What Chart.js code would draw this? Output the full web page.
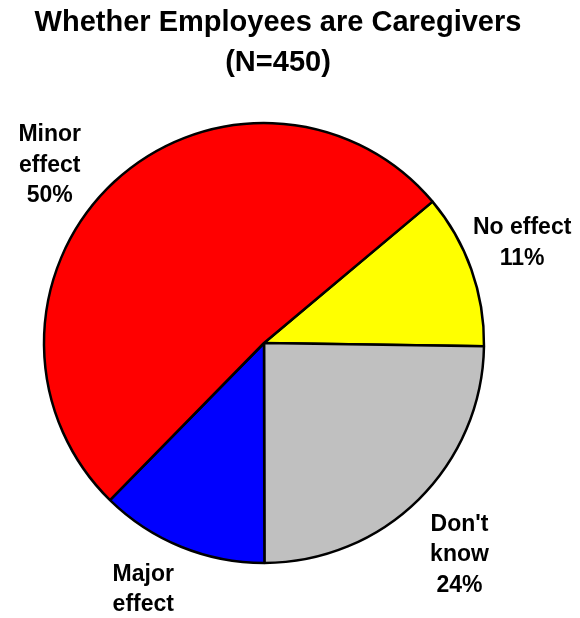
<!DOCTYPE html>
<html>
<head>
<meta charset="utf-8">
<script src="https://cdn.jsdelivr.net/npm/chart.js@4.4.1/dist/chart.umd.min.js"></script>
<style>
  html, body { margin: 0; padding: 0; background: #fff; }
  #wrap { width: 580px; height: 618px; }
</style>
</head>
<body>
<div id="wrap"><canvas id="torta"></canvas></div>
<script>
const titolo = ['Whether Employees are Caregivers', '(N=450)'];
const categorie = [['No effect'], ["Don't", 'know'], ['Major', 'effect'], ['Minor', 'effect']];
const valori = [11, 24, 12, 50];
const colori = ['#FFFF00', '#C0C0C0', '#0000FF', '#FF0000'];

const FONT = '"Liberation Sans", Arial, sans-serif';

// posizione etichette: distanza dal centro (x raggio) e piccolo spostamento
const distanza = [1.26, 1.31, 1.31, 1.26];
const spostamento = [[-3, -7], [-7, 7], [-12, -5], [-26, 26]];

const titoloPlugin = {
    id: 'titoloManuale',
    afterDraw(chart) {
        const { ctx } = chart;
        ctx.save();
        ctx.fillStyle = '#000';
        ctx.font = 'bold 29px ' + FONT;
        ctx.textAlign = 'center';
        ctx.textBaseline = 'middle';
        ctx.fillText(titolo[0], 278, 23);
        ctx.fillText(titolo[1], 278, 63);
        ctx.restore();
    }
};

const etichettePlugin = {
    id: 'etichetteEsterne',
    afterDatasetsDraw(chart) {
        const { ctx } = chart;
        const meta = chart.getDatasetMeta(0);
        ctx.save();
        ctx.fillStyle = '#000';
        ctx.font = 'bold 23px ' + FONT;
        ctx.textAlign = 'center';
        ctx.textBaseline = 'middle';
        meta.data.forEach((arc, i) => {
            const { x, y, startAngle, endAngle, outerRadius } = arc.getProps(['x', 'y', 'startAngle', 'endAngle', 'outerRadius'], true);
            const mid = (startAngle + endAngle) / 2;
            const d = outerRadius * distanza[i];
            const cx = x + Math.cos(mid) * d + spostamento[i][0];
            const cy = y + Math.sin(mid) * d + spostamento[i][1];
            const righe = [...categorie[i], valori[i] + '%'];
            const h = 30.5;
            const top = cy - (righe.length - 1) * h / 2;
            righe.forEach((r, j) => ctx.fillText(r, cx, top + j * h));
        });
        ctx.restore();
    }
};

new Chart(document.getElementById('torta'), {
    type: 'pie',
    data: {
        labels: categorie.map(c => c.join(' ')),
        datasets: [{
            data: valori,
            backgroundColor: colori,
            borderColor: '#000',
            borderWidth: 2.5,
            radius: 220
        }]
    },
    options: {
        responsive: true,
        maintainAspectRatio: false,
        animation: false,
        rotation: 50,
        layout: {
            padding: { left: 0, right: 52, top: 68, bottom: 0 }
        },
        plugins: {
            legend: { display: false },
            tooltip: { enabled: false },
            title: { display: false }
        }
    },
    plugins: [titoloPlugin, etichettePlugin]
});
</script>
</body>
</html>
